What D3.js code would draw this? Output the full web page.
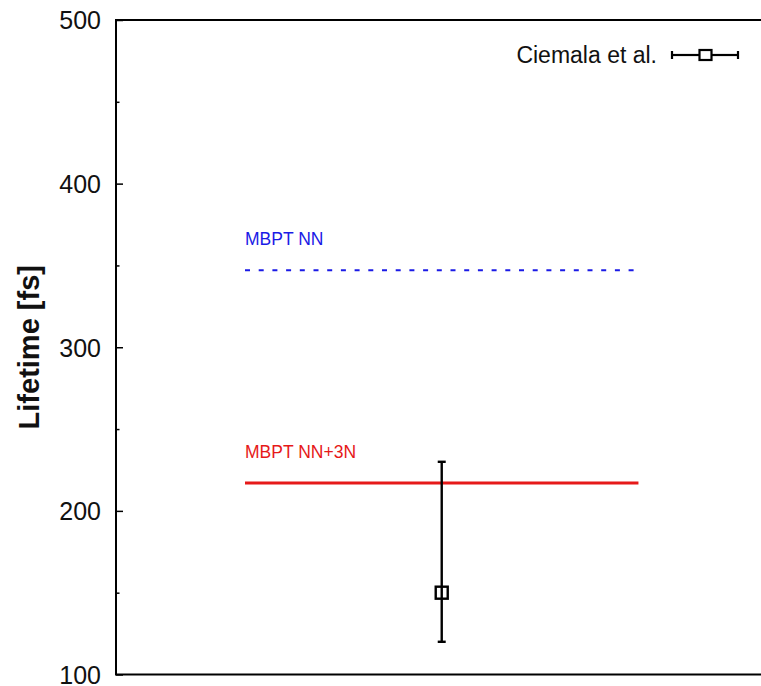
<!DOCTYPE html>
<html>
<head>
<meta charset="utf-8">
<script src="https://cdn.jsdelivr.net/npm/d3@7"></script>
<style>
  html, body { margin: 0; padding: 0; background: #fff; }
  svg { display: block; font-family: "Liberation Sans", Arial, Helvetica, sans-serif; }
</style>
</head>
<body>
<svg id="chart" width="761" height="686"></svg>
<script>
// Lifetime values (fs)
const yTicks = [100, 200, 300, 400, 500];
const yMinorTicks = [150, 250, 350, 450];

// Theory predictions: horizontal reference lines
const theoryNames = ["MBPT NN", "MBPT NN+3N"];
const theoryValues = [347, 217];
const theoryColors = ["#1a1ae6", "#e61919"];
const theorySpan = [0.2, 0.81];

// Measurement with asymmetric error bar
const expLabel = ["Ciemala et al."];
const expX = [0.505];
const expValue = [150];
const expErrLow = [120];
const expErrHigh = [230];

const svg = d3.select("#chart");
const margin = { left: 116, top: 20, bottom: 674.5, right: 761 };

const y = d3.scaleLinear().domain([100, 500]).range([margin.bottom, margin.top]);
const x = d3.scaleLinear().domain([0, 1]).range([margin.left, margin.right]);

// Frame (right side runs past the visible area)
const frameRight = margin.right + 20;
svg.append("path")
  .attr("d", `M${frameRight},${margin.top} H${margin.left} V${margin.bottom} H${frameRight}`)
  .attr("fill", "none").attr("stroke", "#000").attr("stroke-width", 2);

// Y axis: major ticks with labels, minor ticks without
const yAxis = d3.axisRight(y).tickValues(yTicks).tickSize(7).tickFormat(d3.format("d"));
const gy = svg.append("g").attr("transform", `translate(${margin.left},0)`).call(yAxis);
gy.select(".domain").remove();
gy.selectAll(".tick line").attr("stroke", "#000").attr("stroke-width", 1.5);
gy.selectAll(".tick text")
  .attr("text-anchor", "end").attr("x", -15).attr("dy", "0.35em")
  .attr("font-size", 25).attr("fill", "#111")
  .style("font-family", "'Liberation Sans', Arial, sans-serif");

const gyMinor = svg.append("g").attr("transform", `translate(${margin.left},0)`)
  .call(d3.axisRight(y).tickValues(yMinorTicks).tickSize(3.5).tickFormat(""));
gyMinor.select(".domain").remove();
gyMinor.selectAll(".tick line").attr("stroke", "#000").attr("stroke-width", 1.5);

// Axis title
svg.append("text")
  .attr("transform", `translate(39,${(margin.top + margin.bottom) / 2}) rotate(-90)`)
  .attr("text-anchor", "middle")
  .attr("font-size", 29).attr("font-weight", "bold").attr("fill", "#111")
  .text("Lifetime [fs]");

// Theory lines and labels
const theory = theoryNames.map((n, i) => ({ name: n, value: theoryValues[i], color: theoryColors[i], dashed: i === 0 }));
const tg = svg.append("g");
tg.selectAll("line").data(theory).join("line")
  .attr("x1", x(theorySpan[0])).attr("x2", x(theorySpan[1]))
  .attr("y1", d => y(d.value)).attr("y2", d => y(d.value))
  .attr("stroke", d => d.color)
  .attr("stroke-width", d => d.dashed ? 2 : 3)
  .attr("stroke-dasharray", d => d.dashed ? "5,8.7" : null);
tg.selectAll("text").data(theory).join("text")
  .attr("x", x(theorySpan[0]))
  .attr("y", d => y(d.value) - 25)
  .attr("font-size", 17.5)
  .attr("fill", d => d.color)
  .text(d => d.name);

// Measurement: error bar with caps and open square marker
const exp = expValue.map((v, i) => ({ x: expX[i], v, lo: expErrLow[i], hi: expErrHigh[i] }));
const eg = svg.append("g").attr("stroke", "#000").attr("stroke-width", 2.4).attr("fill", "none");
exp.forEach(d => {
  const cx = x(d.x);
  eg.append("line").attr("x1", cx).attr("x2", cx).attr("y1", y(d.lo)).attr("y2", y(d.v) + 6);
  eg.append("line").attr("x1", cx).attr("x2", cx).attr("y1", y(d.v) - 6).attr("y2", y(d.hi));
  eg.append("line").attr("x1", cx - 4).attr("x2", cx + 4).attr("y1", y(d.lo)).attr("y2", y(d.lo));
  eg.append("line").attr("x1", cx - 4).attr("x2", cx + 4).attr("y1", y(d.hi)).attr("y2", y(d.hi));
  eg.append("rect").attr("x", cx - 6).attr("y", y(d.v) - 6).attr("width", 12).attr("height", 12);
  eg.append("line").attr("x1", cx).attr("x2", cx).attr("y1", y(d.v) - 6).attr("y2", y(d.v) + 6);
});

// Legend
const lg = svg.append("g");
lg.append("text").attr("x", 657).attr("y", 63).attr("text-anchor", "end")
  .attr("font-size", 23).attr("fill", "#111").text(expLabel[0]);
const ly = 55, lx0 = 672, lx1 = 738, lxc = 705.5;
const ls = lg.append("g").attr("stroke", "#000").attr("stroke-width", 2.2).attr("fill", "none");
ls.append("line").attr("x1", lx0).attr("x2", lxc - 6).attr("y1", ly).attr("y2", ly);
ls.append("line").attr("x1", lxc + 6).attr("x2", lx1).attr("y1", ly).attr("y2", ly);
ls.append("line").attr("x1", lx0).attr("x2", lx0).attr("y1", ly - 4).attr("y2", ly + 4);
ls.append("line").attr("x1", lx1).attr("x2", lx1).attr("y1", ly - 4).attr("y2", ly + 4);
ls.append("rect").attr("x", lxc - 6).attr("y", ly - 5).attr("width", 12).attr("height", 10);
</script>
</body>
</html>
